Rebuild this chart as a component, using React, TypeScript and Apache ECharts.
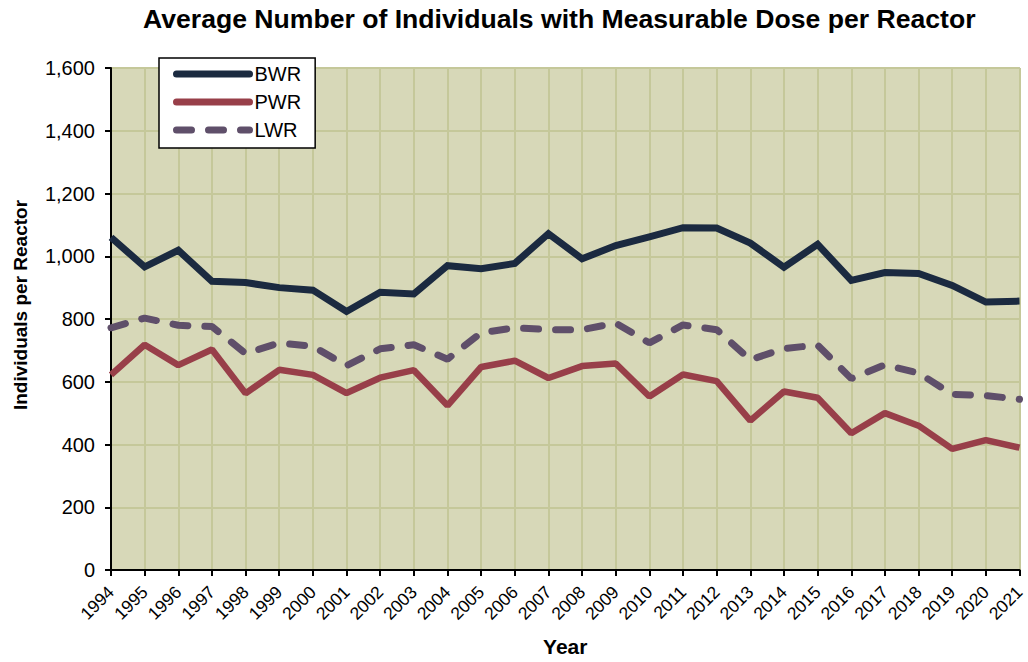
import React, { useEffect, useRef } from "react";
import * as echarts from "echarts";

const years = ["1994","1995","1996","1997","1998","1999","2000","2001","2002","2003","2004","2005","2006","2007","2008","2009","2010","2011","2012","2013","2014","2015","2016","2017","2018","2019","2020","2021"];
const bwr = [1060, 966, 1019, 920, 916, 900, 892, 824, 885, 880, 970, 960, 977, 1072, 992, 1034, 1062, 1091, 1090, 1042, 965, 1038, 923, 948, 945, 907, 854, 857];
const pwr = [622, 718, 653, 703, 563, 638, 622, 564, 613, 637, 524, 647, 667, 612, 650, 658, 553, 623, 602, 476, 569, 549, 436, 500, 460, 386, 414, 390];
const lwr = [772, 803, 780, 776, 690, 724, 713, 651, 705, 718, 672, 756, 772, 766, 766, 787, 724, 781, 766, 670, 706, 717, 610, 654, 628, 560, 556, 544];

const FONT = "Liberation Sans, Arial, sans-serif";

export default function App() {
  const ref = useRef<HTMLDivElement>(null);
  useEffect(() => {
    if (!ref.current) return;
    const chart = echarts.init(ref.current, undefined, { renderer: "svg" });
    chart.setOption({
      animation: false,
      backgroundColor: "#ffffff",
      textStyle: { fontFamily: FONT },
      title: {
        text: "Average Number of Individuals with Measurable Dose per Reactor",
        left: 143,
        top: 5,
        padding: 0,
        textStyle: { fontFamily: FONT, fontSize: 26.6, fontWeight: "bold", color: "#000" },
      },
      grid: {
        left: 111,
        right: 6,
        top: 68,
        bottom: 88,
        show: true,
        backgroundColor: "#D7D8B8",
        borderColor: "#000",
        borderWidth: 1,
      },
      legend: {
        orient: "vertical",
        left: 159,
        top: 58,
        padding: [6, 14, 8, 14],
        itemGap: 8,
        itemWidth: 73,
        itemHeight: 14,
        backgroundColor: "#ffffff",
        borderColor: "#000",
        borderWidth: 1.5,
        borderRadius: 0,
        itemStyle: { opacity: 0 },
        lineStyle: { width: 7, cap: "round" },
        textStyle: { fontFamily: FONT, fontSize: 20, color: "#000" },
        data: ["BWR", "PWR", "LWR"],
      },
      xAxis: {
        type: "category",
        data: years,
        boundaryGap: false,
        name: "Year",
        nameLocation: "middle",
        nameGap: 66,
        nameTextStyle: { fontFamily: FONT, fontSize: 21, fontWeight: "bold", color: "#000" },
        axisLine: { lineStyle: { color: "#000", width: 2 } },
        axisTick: { show: true, inside: false, length: 6, interval: 0, lineStyle: { color: "#000", width: 2 } },
        axisLabel: { rotate: 45, interval: 0, margin: 19, fontFamily: FONT, fontSize: 17.5, color: "#000" },
        splitLine: { show: true, interval: 0, lineStyle: { color: "#C5C89A", width: 2 } },
      },
      yAxis: {
        type: "value",
        min: 0,
        max: 1600,
        interval: 200,
        name: "Individuals per Reactor",
        nameLocation: "middle",
        nameGap: 81,
        nameTextStyle: { fontFamily: FONT, fontSize: 19, fontWeight: "bold", color: "#000", padding: [0, 0, 0, 28] },
        axisLine: { show: true, lineStyle: { color: "#000", width: 2 } },
        axisTick: { show: true, inside: false, length: 6, lineStyle: { color: "#000", width: 2 } },
        axisLabel: {
          margin: 16,
          fontFamily: FONT,
          fontSize: 20,
          color: "#000",
          formatter: (v: number) => v.toLocaleString("en-US"),
        },
        splitLine: { show: true, lineStyle: { color: "#C5C89A", width: 2 } },
      },
      series: [
        {
          name: "BWR",
          type: "line",
          data: bwr,
          symbol: "none",
          lineStyle: { color: "#1B2A40", width: 7, join: "miter" },
          itemStyle: { color: "#1B2A40" },
          z: 4,
        },
        {
          name: "PWR",
          type: "line",
          data: pwr,
          symbol: "none",
          lineStyle: { color: "#983F49", width: 6.5 },
          itemStyle: { color: "#983F49" },
          z: 3,
        },
        {
          name: "LWR",
          type: "line",
          data: lwr,
          symbol: "none",
          lineStyle: { color: "#5F4F6A", width: 7, type: [15, 17], cap: "round" },
          itemStyle: { color: "#5F4F6A" },
          z: 3,
        },
      ],
    });
    return () => chart.dispose();
  }, []);
  return <div ref={ref} style={{ width: 1028, height: 662, position: "absolute", left: 0, top: 0 }} />;
}
